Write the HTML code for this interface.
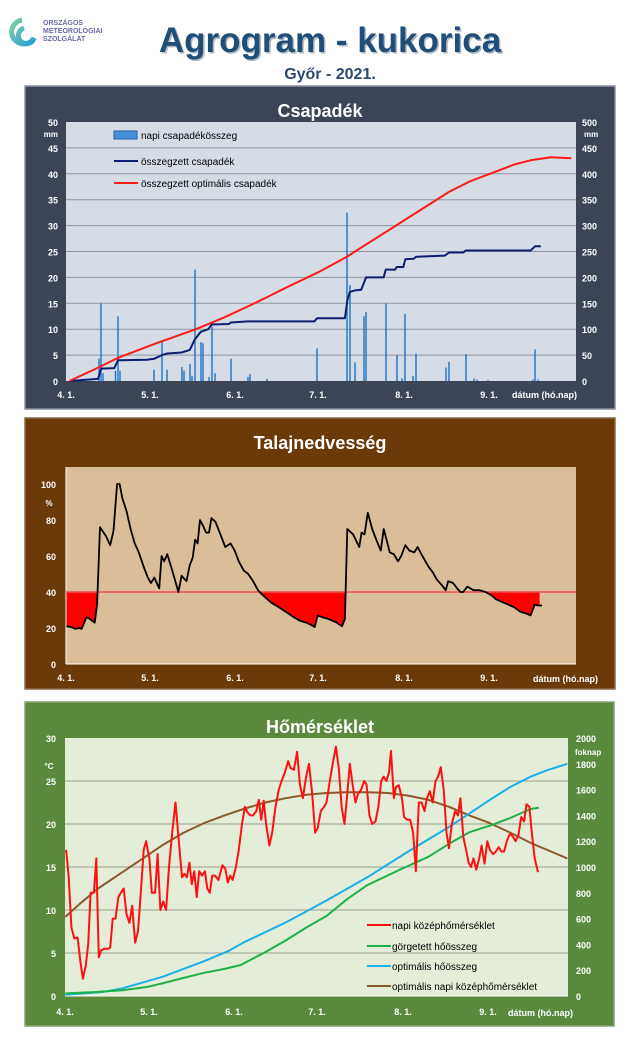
<!DOCTYPE html>
<html><head><meta charset="utf-8">
<style>
body{margin:0;width:640px;height:1047px;background:#fff;overflow:hidden;font-family:"Liberation Sans",sans-serif}
svg{display:block}
</style></head><body>
<svg id="s" width="640" height="1047" xmlns="http://www.w3.org/2000/svg" font-family="Liberation Sans, sans-serif">
<defs>
<linearGradient id="lg" x1="0" y1="0" x2="1" y2="1"><stop offset="0" stop-color="#7ccfa0"/><stop offset="1" stop-color="#2a9fd6"/></linearGradient>
</defs>
<path d="M22 20 A12 12 0 1 0 34 38 A8 8 0 1 1 24 28" fill="none" stroke="url(#lg)" stroke-width="5"/>
<text x="43" y="25" font-size="7" fill="#6a6aa8" font-weight="bold">ORSZÁGOS</text>
<text x="43" y="33" font-size="7" fill="#6a6aa8" font-weight="bold">METEOROLÓGIAI</text>
<text x="43" y="41" font-size="7" fill="#6a6aa8" font-weight="bold">SZOLGÁLAT</text>
<text x="330" y="52" font-size="35" font-weight="bold" fill="#b0b8c4" text-anchor="middle" transform="translate(1.5,1.5)">Agrogram - kukorica</text>
<text x="330" y="52" font-size="35" font-weight="bold" fill="#1f4e79" text-anchor="middle">Agrogram - kukorica</text>
<text x="330" y="79" font-size="16" font-weight="bold" fill="#2c4a6e" text-anchor="middle">Győr - 2021.</text>

<rect x="25" y="86" width="590" height="323" fill="#3c4556" stroke="#8a93a0" stroke-width="1.5"/>
<text x="320" y="117" font-size="18" font-weight="bold" fill="#fff" text-anchor="middle">Csapadék</text>
<rect x="66" y="122" width="510" height="259" fill="#d6dce6"/>
<g id="g1"></g>

<rect x="25" y="418" width="590" height="271" fill="#6b3a08" stroke="#8a6a4a" stroke-width="1.5"/>
<text x="320" y="449" font-size="18" font-weight="bold" fill="#fff" text-anchor="middle">Talajnedvesség</text>
<rect x="66" y="467" width="510" height="197" fill="#d9be97"/>
<g id="g2"></g>

<rect x="25" y="702" width="589" height="324" fill="#5b8a3c" stroke="#8aa07a" stroke-width="1.5"/>
<text x="320" y="733" font-size="18" font-weight="bold" fill="#fff" text-anchor="middle">Hőmérséklet</text>
<rect x="65" y="738" width="503" height="258" fill="#e3edd8"/>
<g id="g3"></g>
</svg>
<script>
var NS="http://www.w3.org/2000/svg";
function el(g,t,a,txt){var e=document.createElementNS(NS,t);for(var k in a)e.setAttribute(k,a[k]);if(txt!==undefined)e.textContent=txt;document.getElementById(g).appendChild(e);return e;}
var K=2.45;
function pl(g,pts,fx,fy,col,w){el(g,'polyline',{points:pts.map(function(p){return (p[0]/K).toFixed(1)+','+fy(p[1]).toFixed(1)}).join(' '),fill:'none',stroke:col,'stroke-width':w,'stroke-linejoin':'round'});}
var xl=[[66,'4. 1.'],[150,'5. 1.'],[235,'6. 1.'],[318,'7. 1.'],[404,'8. 1.'],[489,'9. 1.']];
var y1=function(v){return 381-v*5.18};
for(var i=0;i<=10;i++){var y=y1(i*5);if(i>0&&i<10)el('g1','line',{x1:66,x2:576,y1:y,y2:y,stroke:'#8f97a3','stroke-width':1});
el('g1','text',{x:58,y:y+4,'font-size':9,'font-weight':'bold',fill:'#fff','text-anchor':'end'},i*5);
el('g1','text',{x:582,y:y+4,'font-size':9,'font-weight':'bold',fill:'#fff'},i*50);}
el('g1','text',{x:58,y:137,'font-size':8,'font-weight':'bold',fill:'#fff','text-anchor':'end'},'mm');
el('g1','text',{x:584,y:137,'font-size':8,'font-weight':'bold',fill:'#fff'},'mm');
xl.forEach(function(a){el('g1','text',{x:a[0],y:398,'font-size':9,'font-weight':'bold',fill:'#fff','text-anchor':'middle'},a[1]);});
el('g1','text',{x:512,y:398,'font-size':9,'font-weight':'bold',fill:'#fff'},'dátum (hó.nap)');
var bars=[[101,15],[99,4.3],[103,1.5],[118,12.5],[120,2],[115.5,2],[154,2.2],[162,7.5],[167,2.2],[182,2.7],[184,2],[190,3.3],[192,1],[195,21.5],[201,7.5],[203,7.3],[209,0.8],[212,10.5],[215,1.5],[231,4.3],[248,0.8],[250,1.3],[267,0.4],[317,6.3],[347,32.5],[350,18.5],[355,3.6],[364,12.5],[366,13.3],[386,15],[397,5],[402,0.5],[405,13],[413,1],[416,5.3],[446,2.6],[449,3.7],[466,5.2],[474,0.5],[477,0.3],[488,0.2],[533,0.3],[535,6.1],[538,0.3]];
bars.forEach(function(b){el('g1','rect',{x:b[0]-0.7,y:y1(b[1]),width:1.4,height:b[1]*5.18,fill:'#1f74c4'});});
var cum=[[170,0],[240,0.4],[248,2.4],[280,2.5],[289,4],[360,4.1],[378,4.3],[397,5],[410,5.3],[445,5.5],[465,6],[477,8],[492,9.5],[510,10],[519,10.9],[560,11],[566,11.3],[608,11.5],[770,11.5],[777,12.1],[845,12.1],[851,15.5],[857,17.2],[870,17.5],[885,17.6],[897,20],[940,20],[945,21.5],[968,21.5],[972,22],[988,22],[993,23.5],[1013,23.6],[1020,24],[1090,24.2],[1100,24.8],[1135,24.8],[1141,25.2],[1300,25.2],[1311,26],[1325,26]];
pl('g1',cum,0,y1,'#0c1f6e',2);
var opt=[[170,0],[230,2.2],[290,4.5],[380,7.2],[480,10],[550,12.3],[610,14.5],[660,16.4],[700,18],[740,19.5],[780,21],[850,24],[900,26.5],[950,29],[990,31],[1050,34],[1100,36.5],[1150,38.5],[1200,40],[1260,41.8],[1300,42.6],[1350,43.2],[1400,43]];
pl('g1',opt,0,y1,'#ff1a1a',2);
el('g1','rect',{x:114,y:131,width:23,height:8,fill:'#4a90d6',stroke:'#1f5fa8','stroke-width':1});
el('g1','text',{x:141,y:139,'font-size':10,fill:'#000'},'napi csapadékösszeg');
el('g1','line',{x1:114,x2:138,y1:161,y2:161,stroke:'#0c1f6e','stroke-width':2});
el('g1','text',{x:141,y:165,'font-size':10,fill:'#000'},'összegzett csapadék');
el('g1','line',{x1:114,x2:138,y1:183,y2:183,stroke:'#ff1a1a','stroke-width':2});
el('g1','text',{x:141,y:187,'font-size':10,fill:'#000'},'összegzett optimális  csapadék');
var y2=function(v){return 664-v*1.8};
el('g2','line',{x1:66,x2:66,y1:467,y2:664,stroke:'#fff','stroke-width':1});
el('g2','line',{x1:66,x2:576,y1:664,y2:664,stroke:'#fff','stroke-width':1});
for(var i=0;i<=5;i++){var y=y2(i*20);el('g2','text',{x:56,y:y+4,'font-size':9,'font-weight':'bold',fill:'#fff','text-anchor':'end'},i*20);}
el('g2','text',{x:49,y:506,'font-size':8,'font-weight':'bold',fill:'#fff','text-anchor':'middle'},'%');
xl.forEach(function(a){el('g2','text',{x:a[0],y:681,'font-size':9,'font-weight':'bold',fill:'#fff','text-anchor':'middle'},a[1]);});
el('g2','text',{x:533,y:682,'font-size':9,'font-weight':'bold',fill:'#fff'},'dátum (hó.nap)');
var sm=[[163,21],[175,20.5],[185,19.5],[195,20],[200,19.5],[212,26],[220,25],[232,23],[238,33],[245,76],[260,71],[270,66],[278,74],[287,100],[293,100],[300,92],[310,85],[320,75],[330,67],[340,62],[352,54],[362,48],[370,45],[378,48],[390,42],[396,60],[402,57],[410,61],[422,52],[437,40],[445,49],[457,46],[465,55],[472,59],[478,69],[484,67],[490,80],[497,77],[505,73],[512,73],[518,81],[528,79],[540,72],[552,65],[565,67],[575,63],[585,57],[597,52],[608,50],[620,46],[632,41],[645,38],[655,36],[665,34],[680,32],[700,29],[720,26],[735,24],[750,23],[760,22],[771,20.5],[778,27],[790,26],[805,25],[815,24],[825,23],[838,21],[845,25],[851,75],[865,72],[880,65],[886,73],[893,72],[901,84],[912,75],[922,69],[933,63],[940,75],[955,62],[965,61],[975,57],[983,60],[993,66],[1003,63],[1015,62],[1023,65],[1035,60],[1050,54],[1060,51],[1070,47],[1082,44],[1092,41],[1098,46],[1110,45],[1120,42],[1128,40],[1135,40],[1145,43],[1160,41],[1175,41],[1190,40],[1205,38],[1215,36],[1230,34.5],[1245,33],[1260,31.5],[1275,29],[1290,28],[1300,27],[1310,33],[1318,32.5],[1328,32.5]];
var s=document.getElementById('s');
var cp=document.createElementNS(NS,'clipPath');cp.setAttribute('id','cb');var cr=document.createElementNS(NS,'rect');
cr.setAttribute('x',60);cr.setAttribute('y',y2(40));cr.setAttribute('width',480);cr.setAttribute('height',100);cp.appendChild(cr);s.querySelector('defs').appendChild(cp);
var fillPts=sm.filter(function(p){return p[0]<=1322}).map(function(p){return (p[0]/K).toFixed(1)+','+y2(p[1]).toFixed(1)});
fillPts.push((1322/K).toFixed(1)+','+y2(32.5).toFixed(1));fillPts.push((1322/K).toFixed(1)+','+y2(40));fillPts.push((163/K).toFixed(1)+','+y2(40));
el('g2','polygon',{points:fillPts.join(' '),fill:'#ff0000','clip-path':'url(#cb)'});
el('g2','line',{x1:66,x2:576,y1:y2(40),y2:y2(40),stroke:'#f05050','stroke-width':1.5});
pl('g2',sm,0,y2,'#000',1.8);
var y3=function(v){return 996-v*8.6};var y3r=function(v){return 996-v*0.129};
for(var i=0;i<=6;i++){var y=y3(i*5);if(i>0&&i<6)el('g3','line',{x1:65,x2:568,y1:y,y2:y,stroke:'#9aa090','stroke-width':1});
el('g3','text',{x:56,y:y+4,'font-size':9,'font-weight':'bold',fill:'#fff','text-anchor':'end'},i*5);}
for(var i=0;i<=10;i++){var y=y3r(i*200);el('g3','text',{x:576,y:y+4,'font-size':9,'font-weight':'bold',fill:'#fff'},i*200);}
el('g3','text',{x:49,y:769,'font-size':8,'font-weight':'bold',fill:'#fff','text-anchor':'middle'},'°C');
el('g3','text',{x:575,y:755,'font-size':8,'font-weight':'bold',fill:'#fff'},'foknap');
el('g3','line',{x1:65,x2:568,y1:996,y2:996,stroke:'#fff','stroke-width':1});
xl.forEach(function(a){el('g3','text',{x:a[0]-1,y:1015,'font-size':9,'font-weight':'bold',fill:'#fff','text-anchor':'middle'},a[1]);});
el('g3','text',{x:508,y:1016,'font-size':9,'font-weight':'bold',fill:'#fff'},'dátum (hó.nap)');
var brown=[[160,9.2],[200,10.9],[240,12.5],[300,14.4],[350,16],[400,17.6],[450,19],[500,20.1],[550,21],[600,21.8],[650,22.5],[700,23],[750,23.4],[800,23.6],[850,23.7],[900,23.7],[950,23.6],[1000,23.3],[1050,22.8],[1100,22],[1150,21],[1200,20.1],[1250,19],[1300,17.8],[1350,16.8],[1390,16]];
pl('g3',brown,0,y3,'#8b5a2b',2);
var blue=[[160,10],[250,30],[300,60],[400,150],[500,270],[560,350],[600,420],[700,570],[800,740],[900,920],[1000,1120],[1100,1310],[1200,1520],[1250,1620],[1300,1700],[1340,1750],[1390,1800]];
pl('g3',blue,0,y3r,'#1ab0e8',2);
var green=[[160,20],[230,30],[300,45],[360,70],[400,100],[450,140],[500,180],[550,210],[590,240],[650,340],[700,430],[750,530],[800,620],[850,750],[900,860],[980,980],[1050,1080],[1100,1180],[1150,1270],[1200,1320],[1250,1380],[1300,1450],[1320,1460]];
pl('g3',green,0,y3r,'#1fb04a',2);
var red=[[162,17],[168,14],[175,8],[182,6.7],[190,6.8],[197,4],[203,2],[210,3.5],[216,6],[222,12],[230,12],[236,16],[242,4.5],[248,5.3],[256,5.5],[265,5.5],[270,5.6],[276,9],[283,9],[290,11.5],[296,12],[303,12.5],[310,9.5],[317,8.5],[324,10.5],[331,6.2],[338,7.5],[345,12],[352,17],[358,18],[366,16],[372,12],[380,12],[386,16.5],[393,10],[400,11],[407,10],[414,15],[422,19],[430,22.5],[438,18],[446,13.8],[452,14.2],[458,13.8],[464,15.5],[470,13],[476,14.5],[482,11.5],[488,14.5],[495,14],[502,14.5],[508,12.5],[514,12],[520,14],[527,14],[535,13.5],[545,15.2],[552,14.8],[558,13.2],[564,14],[570,13.5],[578,15],[585,17],[593,20],[600,22],[607,21.3],[614,21],[620,21],[628,21.5],[634,22.8],[640,20.5],[646,22.7],[652,20],[660,17.5],[667,19],[675,22],[683,24],[690,25],[698,26],[706,27.3],[712,26.5],[720,26.3],[728,28.4],[735,24.5],[742,23],[750,25.5],[757,27],[765,23.5],[772,19],[778,19.5],[786,21.5],[794,22],[800,22.5],[808,25],[815,27],[823,29],[830,26.5],[837,22],[844,20],[850,23],[857,27],[864,24.5],[871,22.5],[877,23.5],[885,24],[892,25],[898,24.6],[905,21],[912,20],[920,20.3],[927,22],[934,25],[940,25.5],[947,25],[953,26],[958,28.5],[965,23],[970,24.3],[977,24.5],[985,23],[990,20.8],[998,20.5],[1005,20.5],[1012,19],[1019,14.5],[1026,22.5],[1033,22.5],[1040,21.5],[1046,23],[1053,23.8],[1060,22.5],[1067,25],[1073,25.5],[1080,26.6],[1087,24],[1094,19],[1100,17.2],[1107,20],[1115,21.5],[1122,21],[1128,23],[1135,18.5],[1142,17],[1148,15.5],[1154,15],[1160,16],[1167,14.7],[1174,16],[1180,17.5],[1187,15.4],[1194,18],[1200,17],[1208,16.5],[1215,16.8],[1222,17.3],[1228,16.8],[1235,16.8],[1243,18.2],[1250,18.9],[1257,18.5],[1263,18],[1270,18.7],[1277,20.8],[1284,20.3],[1290,22.3],[1297,22],[1303,19],[1310,16],[1318,14.4]];
pl('g3',red,0,y3,'#ff1010',2);
[['#ff1010','napi középhőmérséklet',925],['#1fb04a','görgetett hőösszeg',946],['#1ab0e8','optimális hőösszeg',966],['#8b5a2b','optimális napi középhőmérséklet',986]].forEach(function(l){
el('g3','line',{x1:367,x2:391,y1:l[2],y2:l[2],stroke:l[0],'stroke-width':2});
el('g3','text',{x:392,y:l[2]+4,'font-size':10,fill:'#000'},l[1]);});
</script>
</body></html>
